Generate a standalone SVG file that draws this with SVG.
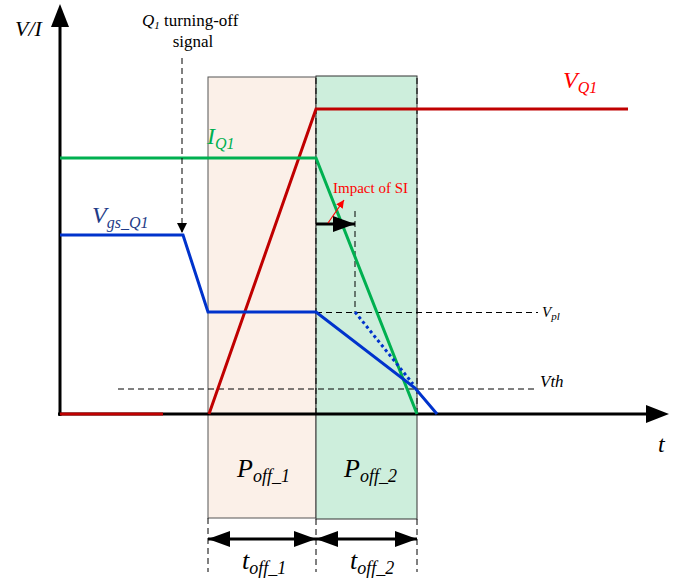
<svg xmlns="http://www.w3.org/2000/svg" width="687" height="578" viewBox="0 0 687 578">
<style>
.dash{fill:none;stroke:#000;stroke-width:1;stroke-dasharray:6,4;}
.red{fill:none;stroke:#C00000;stroke-width:3;}
.grn{fill:none;stroke:#00B050;stroke-width:3;}
.blu{fill:none;stroke:#0033CC;stroke-width:3;}
</style>
<defs>
<marker id="ah" markerWidth="10" markerHeight="10" refX="9" refY="5" orient="auto" markerUnits="userSpaceOnUse" viewBox="0 0 10 10"><path d="M0,0 L10,5 L0,10 z" fill="#000"/></marker>
<marker id="big" markerWidth="22" markerHeight="16" refX="22" refY="8" orient="auto-start-reverse" markerUnits="userSpaceOnUse" viewBox="0 0 22 16"><path d="M0,0 L22,8 L0,16 z" fill="#000"/></marker>
<marker id="ra" markerWidth="8" markerHeight="8" refX="8" refY="4" orient="auto" markerUnits="userSpaceOnUse" viewBox="0 0 8 8"><path d="M0,0 L8,4 L0,8 z" fill="#FF0000"/></marker>
</defs>
<g id="regions">
<rect id="off1" x="208" y="77" width="108" height="441" fill="#FBF0E8" stroke="#555" stroke-width="1"/>
<rect id="off2" x="316" y="76" width="101" height="443" fill="#CDEEDC" stroke="#333" stroke-width="1"/>
</g>
<g id="guides">
<line class="dash" x1="208" y1="518" x2="208" y2="572"/>
<line class="dash" x1="316" y1="519" x2="316" y2="572"/>
<line class="dash" x1="417" y1="519" x2="417" y2="572"/>
<line class="dash" x1="316" y1="78" x2="316" y2="414"/>
<line class="dash" x1="417" y1="78" x2="417" y2="414"/>
<line class="dash" x1="316" y1="312.5" x2="538" y2="312.5"/>
<line class="dash" x1="118" y1="389" x2="538" y2="389"/>
<line class="dash" x1="355" y1="211" x2="355" y2="312"/>
</g>
<g id="axes">
<line x1="60" y1="416" x2="60" y2="25" stroke="#000" stroke-width="3"/>
<path d="M60,4 L51,27 L69,27 z" fill="#000"/>
<line x1="58" y1="414" x2="648" y2="414" stroke="#000" stroke-width="3"/>
<path d="M669,414 L646,405 L646,423 z" fill="#000"/>
</g>
<g id="waveforms">
<polyline class="red" points="60,414 163,414"/>
<polyline class="red" points="209,414 316,109 628,109"/>
<polyline class="grn" points="60,158 316,158 417,414"/>
<polyline class="blu" points="60,235 183,235 208,312 316,312 415,388 437,414"/>
<line x1="355" y1="312" x2="413" y2="384" stroke="#0033CC" stroke-width="3" stroke-dasharray="3,3"/>
</g>
<g id="connectors">
<line class="dash" x1="182" y1="58" x2="182" y2="232" marker-end="url(#ah)"/>
<line x1="316" y1="224" x2="355" y2="224" stroke="#000" stroke-width="3" marker-end="url(#big)"/>
<line x1="328" y1="223" x2="344" y2="200" stroke="#FF0000" stroke-width="1.2" marker-end="url(#ra)"/>
<line x1="208" y1="539" x2="316" y2="539" stroke="#000" stroke-width="3" marker-start="url(#big)" marker-end="url(#big)"/>
<line x1="316" y1="539" x2="417" y2="539" stroke="#000" stroke-width="3" marker-start="url(#big)" marker-end="url(#big)"/>
</g>
<g id="labels">
<text font-family="Liberation Serif" font-style="italic" x="15" y="36" font-size="22">V/I</text>
<text font-family="Liberation Serif" x="142" y="26" font-size="17"><tspan font-style="italic">Q</tspan><tspan font-style="italic" font-size="11" dy="3">1</tspan><tspan dy="-3"> turning-off</tspan></text>
<text font-family="Liberation Serif" x="193" y="47" font-size="17" text-anchor="middle">signal</text>
<text font-family="Liberation Serif" font-style="italic" x="563" y="88" font-size="24" fill="#FF0000">V<tspan font-size="16" dy="5">Q1</tspan></text>
<text font-family="Liberation Serif" font-style="italic" x="207" y="144" font-size="24" fill="#00B050">I<tspan font-size="16" dy="5">Q1</tspan></text>
<text font-family="Liberation Serif" font-style="italic" x="92" y="223" font-size="24" fill="#1F3C88">V<tspan font-size="16" dy="5">gs_Q1</tspan></text>
<text font-family="Liberation Serif" x="333" y="193" font-size="15" fill="#FF0000">Impact of SI</text>
<text font-family="Liberation Serif" font-style="italic" x="542" y="317" font-size="15">V<tspan font-size="11" dy="3">pl</tspan></text>
<text font-family="Liberation Serif" font-style="italic" x="540" y="387" font-size="17">Vth</text>
<text font-family="Liberation Serif" font-style="italic" x="658" y="452" font-size="24">t</text>
<text font-family="Liberation Serif" font-style="italic" x="237" y="477" font-size="26">P<tspan font-size="18" dy="5">off_1</tspan></text>
<text font-family="Liberation Serif" font-style="italic" x="344" y="477" font-size="26">P<tspan font-size="18" dy="5">off_2</tspan></text>
<text font-family="Liberation Serif" font-style="italic" x="242" y="569" font-size="26">t<tspan font-size="18" dy="5">off_1</tspan></text>
<text font-family="Liberation Serif" font-style="italic" x="350" y="569" font-size="26">t<tspan font-size="18" dy="5">off_2</tspan></text>
</g>
</svg>
